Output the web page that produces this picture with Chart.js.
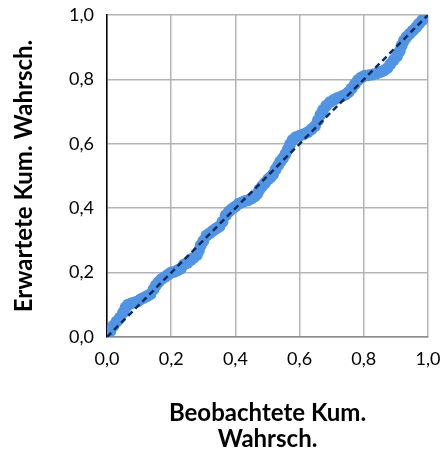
<!DOCTYPE html>
<html lang="de">
<head>
<meta charset="utf-8">
<title>P-P-Diagramm</title>
<script src="https://cdn.jsdelivr.net/npm/chart.js@4.4.1/dist/chart.umd.min.js"></script>
<style>
  html, body { margin: 0; padding: 0; background: #ffffff; }
  #wrap { width: 440px; height: 450px; position: relative; }
</style>
</head>
<body>
<div id="wrap"><canvas id="pp"></canvas></div>
<script>
// Observed cumulative probability (x) and expected cumulative probability (y)
const observedProb = [
  0.000, 0.010, 0.020, 0.030, 0.040, 0.050, 0.058, 0.065, 0.075, 0.085,
  0.095, 0.105, 0.115, 0.125, 0.135, 0.145, 0.152, 0.160, 0.170, 0.180,
  0.190, 0.200, 0.210, 0.220, 0.230, 0.240, 0.250, 0.260, 0.270, 0.280,
  0.286, 0.292, 0.300, 0.310, 0.320, 0.330, 0.340, 0.350, 0.360, 0.370,
  0.380, 0.390, 0.400, 0.410, 0.420, 0.430, 0.440, 0.450, 0.460, 0.468,
  0.475, 0.483, 0.492, 0.502, 0.510, 0.517, 0.525, 0.533, 0.540, 0.548,
  0.556, 0.563, 0.570, 0.578, 0.588, 0.600, 0.612, 0.625, 0.637, 0.648,
  0.657, 0.665, 0.673, 0.683, 0.695, 0.707, 0.718, 0.730, 0.742, 0.752,
  0.762, 0.772, 0.782, 0.792, 0.803, 0.815, 0.828, 0.840, 0.852, 0.863,
  0.873, 0.883, 0.893, 0.903, 0.912, 0.918, 0.925, 0.933, 0.943, 0.953,
  0.963, 0.972, 0.982, 0.991, 1.000
];
const expectedProb = [
  0.005, 0.018, 0.035, 0.048, 0.060, 0.075, 0.092, 0.100, 0.104, 0.107,
  0.110, 0.117, 0.122, 0.127, 0.133, 0.148, 0.160, 0.170, 0.180, 0.186,
  0.193, 0.200, 0.203, 0.207, 0.213, 0.225, 0.230, 0.238, 0.246, 0.255,
  0.268, 0.285, 0.298, 0.315, 0.322, 0.330, 0.337, 0.343, 0.358, 0.378,
  0.390, 0.398, 0.405, 0.414, 0.418, 0.422, 0.425, 0.430, 0.436, 0.445,
  0.458, 0.468, 0.478, 0.490, 0.497, 0.505, 0.520, 0.533, 0.545, 0.555,
  0.568, 0.582, 0.598, 0.612, 0.620, 0.625, 0.630, 0.636, 0.645, 0.655,
  0.672, 0.690, 0.705, 0.718, 0.730, 0.737, 0.742, 0.747, 0.752, 0.760,
  0.772, 0.785, 0.798, 0.806, 0.811, 0.813, 0.815, 0.818, 0.823, 0.828,
  0.835, 0.848, 0.860, 0.872, 0.888, 0.905, 0.920, 0.932, 0.942, 0.952,
  0.962, 0.973, 0.984, 0.992, 1.000
];
// Reference diagonal (perfect agreement)
const diagonalX = [0, 1];
const diagonalY = [0, 1];
// Axis range and tick step
const axisMin = 0;
const axisMax = 1;
const tickStep = 0.2;

const fmt = v => v.toFixed(1).replace('.', ',');
const FONT = "Lato, 'Open Sans', sans-serif";

const ppPoints = observedProb.map((x, i) => ({ x: x, y: expectedProb[i] }));
const diagPoints = diagonalX.map((x, i) => ({ x: x, y: diagonalY[i] }));

new Chart(document.getElementById('pp'), {
  type: 'scatter',
  data: {
    datasets: [
      {
        type: 'line',
        data: diagPoints,
        borderColor: '#0e2a5c',
        borderWidth: 2.5,
        borderDash: [6, 4],
        pointRadius: 0,
        fill: false,
        order: 0
      },
      {
        data: ppPoints,
        backgroundColor: '#5294e4',
        borderColor: '#5294e4',
        borderWidth: 0,
        pointRadius: 6,
        order: 1
      }
    ]
  },
  options: {
    responsive: true,
    maintainAspectRatio: false,
    animation: false,
    layout: { padding: { top: 15, right: 12, left: 0, bottom: 0 } },
    plugins: { legend: { display: false }, tooltip: { enabled: false } },
    scales: {
      x: {
        type: 'linear',
        min: axisMin,
        max: axisMax,
        ticks: {
          stepSize: tickStep,
          callback: fmt,
          color: '#000000',
          padding: 11,
          maxRotation: 0,
          font: { family: FONT, size: 18 }
        },
        grid: { color: '#b4b4b4', lineWidth: 1.5, drawTicks: false },
        border: { color: '#8c8c8c', width: 1.5 },
        title: {
          display: true,
          text: ['Beobachtete Kum.', 'Wahrsch.'],
          color: '#000000',
          font: { family: FONT, size: 24, weight: 'bold', lineHeight: 1.08 },
          padding: { top: 30, bottom: -2 }
        },
        afterFit: s => { s.height = 113; s.paddingLeft = 0; s.paddingRight = 0; }
      },
      y: {
        type: 'linear',
        min: axisMin,
        max: axisMax,
        ticks: {
          stepSize: tickStep,
          callback: fmt,
          color: '#000000',
          padding: 13,
          font: { family: FONT, size: 18 }
        },
        grid: { color: '#b4b4b4', lineWidth: 1.5, drawTicks: false },
        border: { color: '#000000', width: 1.5 },
        title: {
          display: true,
          text: 'Erwartete Kum. Wahrsch.',
          color: '#000000',
          font: { family: FONT, size: 24, weight: 'bold' },
          padding: { top: 10, bottom: 20 }
        },
        afterFit: s => { s.width = 107; s.paddingTop = 0; s.paddingBottom = 0; }
      }
    }
  }
});
</script>
</body>
</html>
